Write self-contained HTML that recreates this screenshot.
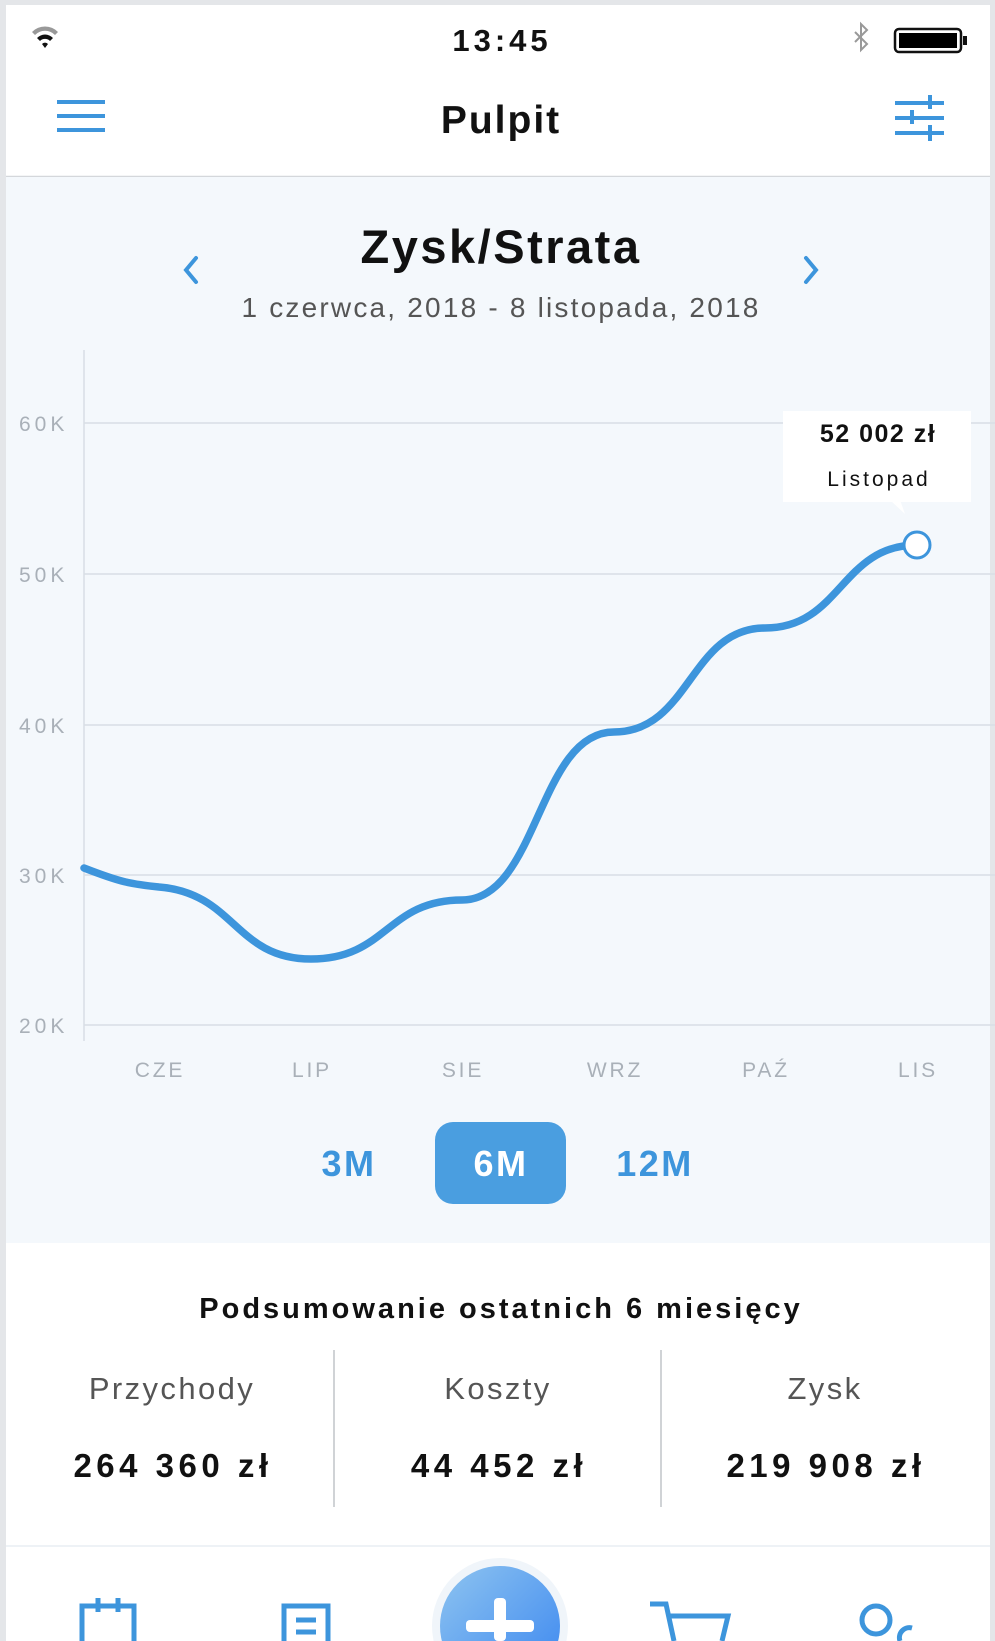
<!DOCTYPE html>
<html><head><meta charset="utf-8"><style>
html,body{margin:0;padding:0;background:#e6e8eb;}
svg{display:block;font-family:"Liberation Sans",sans-serif;}
</style></head><body>
<svg width="995" height="1641" viewBox="0 0 995 1641" xmlns="http://www.w3.org/2000/svg">
<rect x="0" y="0" width="995" height="1641" fill="#e4e6e9"/>
<rect x="6" y="5" width="984" height="171" fill="#ffffff"/>
<line x1="6" y1="176.5" x2="990" y2="176.5" stroke="#d4d7db" stroke-width="1.5"/>
<rect x="6" y="177" width="984" height="1066" fill="#f4f8fc"/>
<rect x="6" y="1243" width="984" height="398" fill="#ffffff"/>
<line x1="6" y1="1546" x2="990" y2="1546" stroke="#eef2f6" stroke-width="2"/>

<g fill="#111">
<path d="M32 32 A18 18 0 0 1 58 32 L55 35 A14 14 0 0 0 35 35 Z" fill="#999"/>
<path d="M37 38 A11 11 0 0 1 53 38 L50 41 A7 7 0 0 0 40 41 Z"/>
<path d="M42 44 L45 48 L48 44 A4 4 0 0 0 42 44 Z"/>
</g>
<text x="502" y="51" text-anchor="middle" font-size="31" font-weight="bold" fill="#111" letter-spacing="4">13:45</text>
<path d="M855 32 L867 44 L861 50 L861 24 L867 30 L855 42" fill="none" stroke="#999" stroke-width="2"/>
<rect x="895" y="29" width="66" height="23" rx="4" fill="none" stroke="#111" stroke-width="2.5"/>
<rect x="899" y="33" width="58" height="15" fill="#000"/>
<rect x="963" y="36" width="4" height="9" fill="#111"/>

<g fill="#3d95dc">
<rect x="57" y="100" width="48" height="4"/>
<rect x="57" y="114" width="48" height="4"/>
<rect x="57" y="128" width="48" height="4"/>
</g>
<text x="501" y="133" text-anchor="middle" font-size="39" font-weight="bold" fill="#111" letter-spacing="2">Pulpit</text>
<g fill="#3d95dc">
<rect x="895" y="101" width="49" height="4"/><rect x="928" y="95" width="4" height="14"/>
<rect x="895" y="116" width="49" height="4"/><rect x="910" y="110" width="4" height="14"/>
<rect x="895" y="131" width="49" height="4"/><rect x="928" y="125" width="4" height="16"/>
</g>

<text x="501" y="263" text-anchor="middle" font-size="47" font-weight="bold" fill="#111" letter-spacing="2.5">Zysk/Strata</text>
<text x="501" y="317" text-anchor="middle" font-size="28" fill="#555" letter-spacing="2.2">1 czerwca, 2018 - 8 listopada, 2018</text>
<path d="M196 258 L186 270 L196 282" fill="none" stroke="#3d95dc" stroke-width="4" stroke-linecap="round"/>
<path d="M806 258 L816 270 L806 282" fill="none" stroke="#3d95dc" stroke-width="4" stroke-linecap="round"/>

<g stroke="#d8dee5" stroke-width="1.5">
<line x1="84" y1="423" x2="995" y2="423"/>
<line x1="84" y1="574" x2="995" y2="574"/>
<line x1="84" y1="725" x2="995" y2="725"/>
<line x1="84" y1="875" x2="995" y2="875"/>
<line x1="84" y1="1025" x2="995" y2="1025"/>
<line x1="84" y1="350" x2="84" y2="1041"/>
</g>
<g font-size="21" fill="#a9b0b8" letter-spacing="4">
<text x="19" y="431">60K</text>
<text x="19" y="582">50K</text>
<text x="19" y="733">40K</text>
<text x="19" y="883">30K</text>
<text x="19" y="1033">20K</text>
</g>
<g font-size="21" fill="#a9b0b8" text-anchor="middle" letter-spacing="2.8">
<text x="160" y="1077">CZE</text>
<text x="312" y="1077">LIP</text>
<text x="463" y="1077">SIE</text>
<text x="615" y="1077">WRZ</text>
<text x="766" y="1077">PAŹ</text>
<text x="918" y="1077">LIS</text>
</g>
<path d="M84 868 C120 882 130 884 159 887 C235 893 235 959 311 959 C387 959 387 900 462 900 C538 900 538 732 614 732 C690 732 690 628 765 628 C841 628 841 545 917 545" fill="none" stroke="#3d95dc" stroke-width="7.5" stroke-linecap="round"/>
<rect x="783" y="411" width="188" height="91" fill="#ffffff"/>
<path d="M890 500 L905 514 L900 500 Z" fill="#ffffff"/>
<text x="878" y="442" text-anchor="middle" font-size="25" font-weight="bold" fill="#111" letter-spacing="1.5">52 002 zł</text>
<text x="879" y="486" text-anchor="middle" font-size="21" fill="#111" letter-spacing="3">Listopad</text>
<circle cx="917" cy="545" r="13" fill="#ffffff" stroke="#3d95dc" stroke-width="3"/>

<rect x="435" y="1122" width="131" height="82" rx="18" fill="#4a9ee0"/>
<text x="349" y="1176" text-anchor="middle" font-size="36" font-weight="bold" fill="#3d95dc" letter-spacing="2.5">3M</text>
<text x="501" y="1176" text-anchor="middle" font-size="36" font-weight="bold" fill="#ffffff" letter-spacing="2.5">6M</text>
<text x="655" y="1176" text-anchor="middle" font-size="36" font-weight="bold" fill="#3d95dc" letter-spacing="2.5">12M</text>

<text x="501" y="1318" text-anchor="middle" font-size="29" font-weight="bold" fill="#111" letter-spacing="3">Podsumowanie ostatnich 6 miesięcy</text>
<line x1="334" y1="1350" x2="334" y2="1507" stroke="#d0d3d6" stroke-width="2"/>
<line x1="661" y1="1350" x2="661" y2="1507" stroke="#d0d3d6" stroke-width="2"/>
<g font-size="31" fill="#555" text-anchor="middle" letter-spacing="2.4">
<text x="172" y="1399">Przychody</text>
<text x="498" y="1399">Koszty</text>
<text x="825" y="1399">Zysk</text>
</g>
<g font-size="33" font-weight="bold" fill="#111" text-anchor="middle" letter-spacing="4.5">
<text x="173" y="1477">264 360 zł</text>
<text x="499" y="1477">44 452 zł</text>
<text x="826" y="1477">219 908 zł</text>
</g>

<defs><linearGradient id="g" x1="0" y1="0" x2="1" y2="1"><stop offset="0" stop-color="#8ec4f0"/><stop offset="1" stop-color="#3a86f0"/></linearGradient></defs>
<circle cx="500" cy="1626" r="68" fill="#f0f5fa"/>
<circle cx="500" cy="1626" r="60" fill="url(#g)"/>
<rect x="466" y="1620" width="68" height="12" rx="4" fill="#fff"/>
<rect x="494" y="1598" width="12" height="43" rx="4" fill="#fff"/>
<g fill="none" stroke="#3d95dc" stroke-width="5">
<path d="M82 1641 L82 1606 L134 1606 L134 1641"/>
<path d="M98 1598 V1612 M118 1598 V1612"/>
<path d="M284 1641 L284 1606 L328 1606 L328 1641"/>
<path d="M296 1620 H316 M296 1632 H316"/>
<path d="M650 1604 H666 L674 1641 M670 1616 H728 L722 1641"/>
<circle cx="876" cy="1620" r="14"/>
<path d="M900 1641 A10 10 0 0 1 912 1628"/>
</g>
</svg>
</body></html>
